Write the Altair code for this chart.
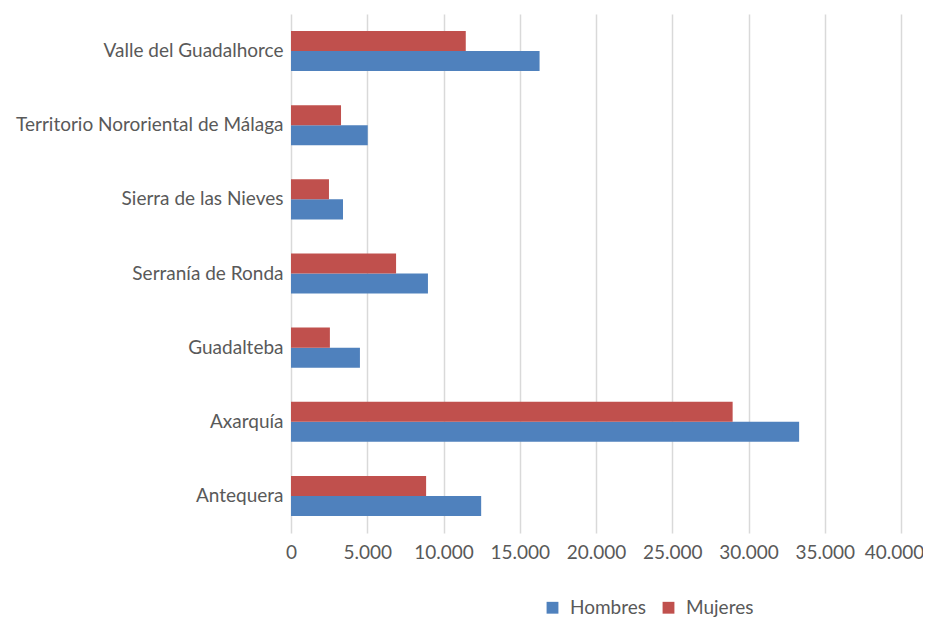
import altair as alt
import pandas as pd

categories = [
    "Valle del Guadalhorce",
    "Territorio Nororiental de Málaga",
    "Sierra de las Nieves",
    "Serranía de Ronda",
    "Guadalteba",
    "Axarquía",
    "Antequera",
]
hombres = [16300, 5030, 3410, 8980, 4520, 33320, 12470]
mujeres = [11460, 3280, 2490, 6890, 2550, 28960, 8860]
series = ["Hombres", "Mujeres"]
x_ticks = [0, 5000, 10000, 15000, 20000, 25000, 30000, 35000, 40000]

rows = []
for c, h, m in zip(categories, hombres, mujeres):
    rows.append({"zona": c, "serie": "Hombres", "valor": h})
    rows.append({"zona": c, "serie": "Mujeres", "valor": m})
df = pd.DataFrame(rows)

FONT = "Lato"
GREY = "#595959"
FS = 19

chart = (
    alt.Chart(df)
    .mark_bar()
    .encode(
        y=alt.Y(
            "zona:N",
            sort=categories,
            title=None,
            scale=alt.Scale(paddingInner=0.46, paddingOuter=0.23),
            axis=alt.Axis(
                domain=False,
                ticks=False,
                labelFontSize=FS,
                labelColor=GREY,
                labelFont=FONT,
                labelPadding=8,
                labelLimit=400,
            ),
        ),
        yOffset=alt.YOffset("serie:N", scale=alt.Scale(domain=["Mujeres", "Hombres"])),
        x=alt.X(
            "valor:Q",
            title=None,
            scale=alt.Scale(domain=[0, 40000], nice=False),
            axis=alt.Axis(
                values=x_ticks,
                domain=False,
                ticks=False,
                grid=True,
                gridColor="#d9d9d9",
                gridWidth=1.5,
                labelFontSize=FS,
                labelColor=GREY,
                labelFont=FONT,
                labelPadding=10,
                labelFlush=False,
                labelOverlap=False,
                labelOffset={"condition": {"test": "datum.value == 40000", "value": -7}, "value": 0},
                labelExpr="replace(format(datum.value, ','), regexp(',', 'g'), '.')",
            ),
        ),
        color=alt.Color(
            "serie:N",
            scale=alt.Scale(domain=series, range=["#4F81BD", "#C0504D"]),
            legend=alt.Legend(
                title=None,
                orient="none",
                direction="horizontal",
                legendX=252,
                legendY=584,
                symbolType="square",
                symbolSize=140,
                symbolStrokeWidth=0,
                labelFontSize=FS,
                labelColor=GREY,
                labelFont=FONT,
                columnPadding=12,
                labelOffset=8,
            ),
        ),
    )
    .properties(
        width=610,
        height=519,
        autosize="none",
        padding={"left": 283, "top": 6, "right": 22, "bottom": 86},
    )
    .configure_view(stroke=None)
)

chart.save("out.html", embed_options={"renderer": "svg", "actions": False})
